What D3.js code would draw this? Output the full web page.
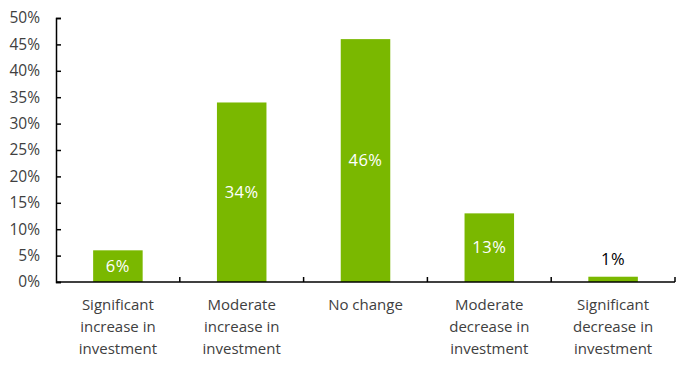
<!DOCTYPE html>
<html><head><meta charset="utf-8">
<script src="https://cdn.jsdelivr.net/npm/d3@7"></script>
<style>body{margin:0;background:#fff}svg{display:block}text{font-family:"Open Sans",sans-serif}</style>
</head><body><svg id="c" width="688" height="369"></svg>
<script>
const categories = [
  ["Significant","increase in","investment"],
  ["Moderate","increase in","investment"],
  ["No change"],
  ["Moderate","decrease in","investment"],
  ["Significant","decrease in","investment"]
];
const values = [6, 34, 46, 13, 1];
const yTicks = [0,5,10,15,20,25,30,35,40,45,50];

const svg = d3.select("#c");
const m = {left:56, right:13, top:18, bottom:87};
const W = 688, H = 369;
const x = d3.scaleBand().domain(d3.range(categories.length)).range([m.left, W-m.right]).paddingInner(0).paddingOuter(0);
const y = d3.scaleLinear().domain([0,50]).range([H-m.bottom, m.top]);
const green = "#7AB800", textCol = "#404040";

// bars
const bw = x.bandwidth()*0.4;
svg.selectAll("rect.bar").data(values).join("rect")
  .attr("x",(d,i)=>x(i)+x.bandwidth()/2-bw/2).attr("width",bw)
  .attr("y",d=>y(d)).attr("height",d=>y(0)-y(d)).attr("fill",green);

// y axis
const ya = svg.append("g").attr("transform",`translate(${m.left},0)`)
  .call(d3.axisLeft(y).tickValues(yTicks).tickFormat(d=>d+"%").tickSizeInner(-5).tickSizeOuter(-5).tickPadding(16));
ya.select(".domain").attr("stroke","#000").attr("stroke-width",1.5);
ya.selectAll(".tick line").attr("stroke","#000").attr("stroke-width",1.5);
ya.selectAll("text").attr("font-size",15.5).attr("fill",textCol).attr("font-family","Open Sans");

// x axis baseline with boundary ticks
const xa = svg.append("g");
xa.append("line").attr("x1",m.left).attr("x2",W-m.right).attr("y1",y(0)).attr("y2",y(0)).attr("stroke","#000").attr("stroke-width",1.5);
const bounds = d3.range(1, categories.length+1).map(i=> i<categories.length ? x(i) : x(i-1)+x.bandwidth());
xa.selectAll("line.t").data(bounds).join("line").attr("class","t")
  .attr("x1",d=>d).attr("x2",d=>d).attr("y1",y(0)).attr("y2",y(0)-5).attr("stroke","#000").attr("stroke-width",1.5);

// category labels
categories.forEach((lines,i)=>{
  const t = svg.append("text").attr("text-anchor","middle").attr("font-size",15).attr("fill",textCol)
    .attr("x",x(i)+x.bandwidth()/2).attr("y",y(0)+28);
  lines.forEach((l,j)=>t.append("tspan").attr("x",x(i)+x.bandwidth()/2).attr("dy",j?22:0).text(l));
});

// value labels
svg.selectAll("text.val").data(values).join("text").attr("class","val")
  .attr("text-anchor","middle").attr("font-size",16.5).attr("letter-spacing","0.5px")
  .attr("x",(d,i)=>x(i)+x.bandwidth()/2)
  .attr("y",d=> d>=5 ? (y(d)+y(0))/2 : y(d)-12)
  .attr("dy", d=> d>=5 ? "0.35em" : 0)
  .attr("fill",d=> d>=5 ? "#fff" : "#000")
  .text(d=>d+"%");
</script></body></html>
